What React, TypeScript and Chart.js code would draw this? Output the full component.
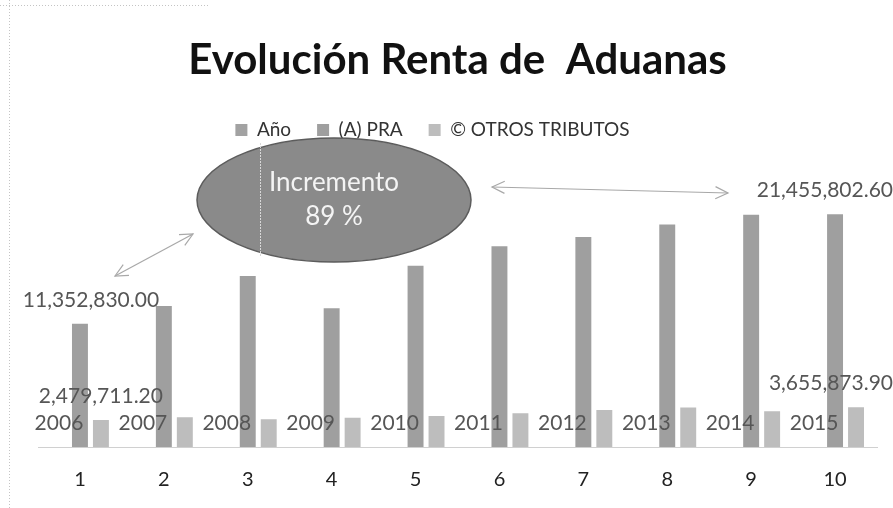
import React, { useEffect, useRef } from "react";
import { Chart, registerables } from "chart.js";

Chart.register(...registerables);

const categories = ["1", "2", "3", "4", "5", "6", "7", "8", "9", "10"];
const years = [2006, 2007, 2008, 2009, 2010, 2011, 2012, 2013, 2014, 2015];
const praValues = [
  11352830.0, 13000000, 15750000, 12800000, 16700000, 18500000, 19350000,
  20500000, 21400000, 21455802.6,
];
const otrosValues = [
  2479711.2, 2750000, 2550000, 2700000, 2850000, 3100000, 3400000, 3650000,
  3300000, 3655873.9,
];
const seriesNames = ["Año", "(A) PRA", "© OTROS TRIBUTOS"];
const titleText = "Evolución Renta de  Aduanas";
const calloutLines = ["Incremento", "89 %"];
// which points carry a value label (dataset index -> point indices)
const labelledPoints: number[][] = [
  [0, 1, 2, 3, 4, 5, 6, 7, 8, 9],
  [0, 9],
  [0, 9],
];

const FONT = "Lato, 'Open Sans', sans-serif";

function fmtMoney(v: number) {
  return v.toLocaleString("en-US", {
    minimumFractionDigits: 2,
    maximumFractionDigits: 2,
  });
}

const labelPlugin = {
  id: "valueLabels",
  afterDatasetsDraw(chart: any) {
    const ctx = chart.ctx;
    ctx.save();
    ctx.font = `21px ${FONT}`;
    ctx.textAlign = "center";
    ctx.textBaseline = "middle";
    chart.data.datasets.forEach((ds: any, di: number) => {
      const meta = chart.getDatasetMeta(di);
      labelledPoints[di].forEach((i) => {
        const bar = meta.data[i];
        if (!bar) return;
        const v = ds.data[i];
        const text = di === 0 ? String(v) : fmtMoney(v);
        const w = ctx.measureText(text).width;
        let x = bar.x + (di === 1 && i === 0 ? 11 : 0);
        x = Math.min(x, chart.width - w / 2);
        const y = bar.y - 24;
        ctx.fillStyle = "#565656";
        ctx.fillText(text, x, y);
      });
    });
    ctx.restore();
  },
};

// shift the legend row left, as in the original layout
const legendShiftPlugin = {
  id: "legendShift",
  afterLayout(chart: any) {
    const lg = chart.legend;
    if (lg) {
      lg.left -= 25;
      lg.right -= 25;
    }
  },
};

function drawArrow(ctx: CanvasRenderingContext2D, x1: number, y1: number, x2: number, y2: number) {
  const ang = Math.atan2(y2 - y1, x2 - x1);
  const head = 14;
  const spread = 0.45;
  ctx.beginPath();
  ctx.moveTo(x1, y1);
  ctx.lineTo(x2, y2);
  ctx.stroke();
  const heads: [number, number, number][] = [
    [x2, y2, ang + Math.PI],
    [x1, y1, ang],
  ];
  heads.forEach(([hx, hy, a]) => {
    ctx.beginPath();
    ctx.moveTo(hx + head * Math.cos(a - spread), hy + head * Math.sin(a - spread));
    ctx.lineTo(hx, hy);
    ctx.lineTo(hx + head * Math.cos(a + spread), hy + head * Math.sin(a + spread));
    ctx.stroke();
  });
}

const calloutPlugin = {
  id: "callout",
  afterDraw(chart: any) {
    const ctx: CanvasRenderingContext2D = chart.ctx;
    ctx.save();
    // frame dotted lines
    ctx.strokeStyle = "#c4c4c4";
    ctx.lineWidth = 1;
    ctx.setLineDash([1, 2]);
    ctx.beginPath();
    ctx.moveTo(9.5, 0);
    ctx.lineTo(9.5, 508);
    ctx.stroke();
    ctx.beginPath();
    ctx.moveTo(0, 5.5);
    ctx.lineTo(210, 5.5);
    ctx.stroke();
    ctx.setLineDash([]);

    // ellipse
    ctx.beginPath();
    ctx.ellipse(334, 200, 137, 62, 0, 0, Math.PI * 2);
    ctx.fillStyle = "#8a8a8a";
    ctx.fill();
    ctx.strokeStyle = "#5c5c5c";
    ctx.lineWidth = 1.5;
    ctx.stroke();
    // faint vertical line
    ctx.strokeStyle = "#d8d8d8";
    ctx.lineWidth = 1;
    ctx.setLineDash([2, 1]);
    ctx.beginPath();
    ctx.moveTo(260.5, 143);
    ctx.lineTo(260.5, 256);
    ctx.stroke();
    ctx.setLineDash([]);
    // text
    ctx.fillStyle = "#f4f4f4";
    ctx.font = `26px ${FONT}`;
    ctx.textAlign = "center";
    ctx.textBaseline = "middle";
    ctx.fillText(calloutLines[0], 334, 183);
    ctx.fillText(calloutLines[1], 334, 217);

    // arrows
    ctx.strokeStyle = "#a8a8a8";
    ctx.lineWidth = 1.2;
    drawArrow(ctx, 115, 276, 193, 234);
    drawArrow(ctx, 492, 187, 728, 193);
    ctx.restore();
  },
};

export default function App() {
  const ref = useRef<HTMLCanvasElement | null>(null);
  useEffect(() => {
    document.body.style.margin = "0";
    const canvas = ref.current;
    if (!canvas) return;
    const chart = new Chart(canvas, {
      type: "bar",
      data: {
        labels: categories,
        datasets: [
          {
            label: seriesNames[0],
            data: years,
            backgroundColor: "#a2a2a2",
          },
          {
            label: seriesNames[1],
            data: praValues,
            backgroundColor: "#9f9f9f",
          },
          {
            label: seriesNames[2],
            data: otrosValues,
            backgroundColor: "#bdbdbd",
          },
        ],
      },
      options: {
        animation: false,
        responsive: false,
        devicePixelRatio: 1,
        layout: { padding: { left: 38, right: 16, bottom: -5, top: 0 } },
        datasets: {
          bar: { categoryPercentage: 0.75, barPercentage: 0.76 },
        },
        scales: {
          x: {
            grid: { display: false, drawTicks: false },
            border: { display: true, color: "#d0d0d0", width: 1 },
            ticks: {
              padding: 21,
              color: "#222",
              font: { family: FONT, size: 20 },
            },
          },
          y: {
            display: false,
            min: 0,
            max: 27430000,
          },
        },
        plugins: {
          title: {
            display: true,
            text: titleText,
            color: "#111",
            font: { family: FONT, size: 42, weight: "bold" },
            padding: { top: 35, bottom: 9 },
          },
          legend: {
            display: true,
            labels: {
              color: "#333",
              font: { family: FONT, size: 19 },
              boxWidth: 12,
              boxHeight: 12,
              padding: 26,
            },
          },
          tooltip: { enabled: false },
        },
      },
      plugins: [legendShiftPlugin, labelPlugin, calloutPlugin],
    });
    return () => chart.destroy();
  }, []);
  return (
    <div style={{ width: 893, height: 508, background: "#fff" }}>
      <canvas ref={ref} width={893} height={508} />
    </div>
  );
}
